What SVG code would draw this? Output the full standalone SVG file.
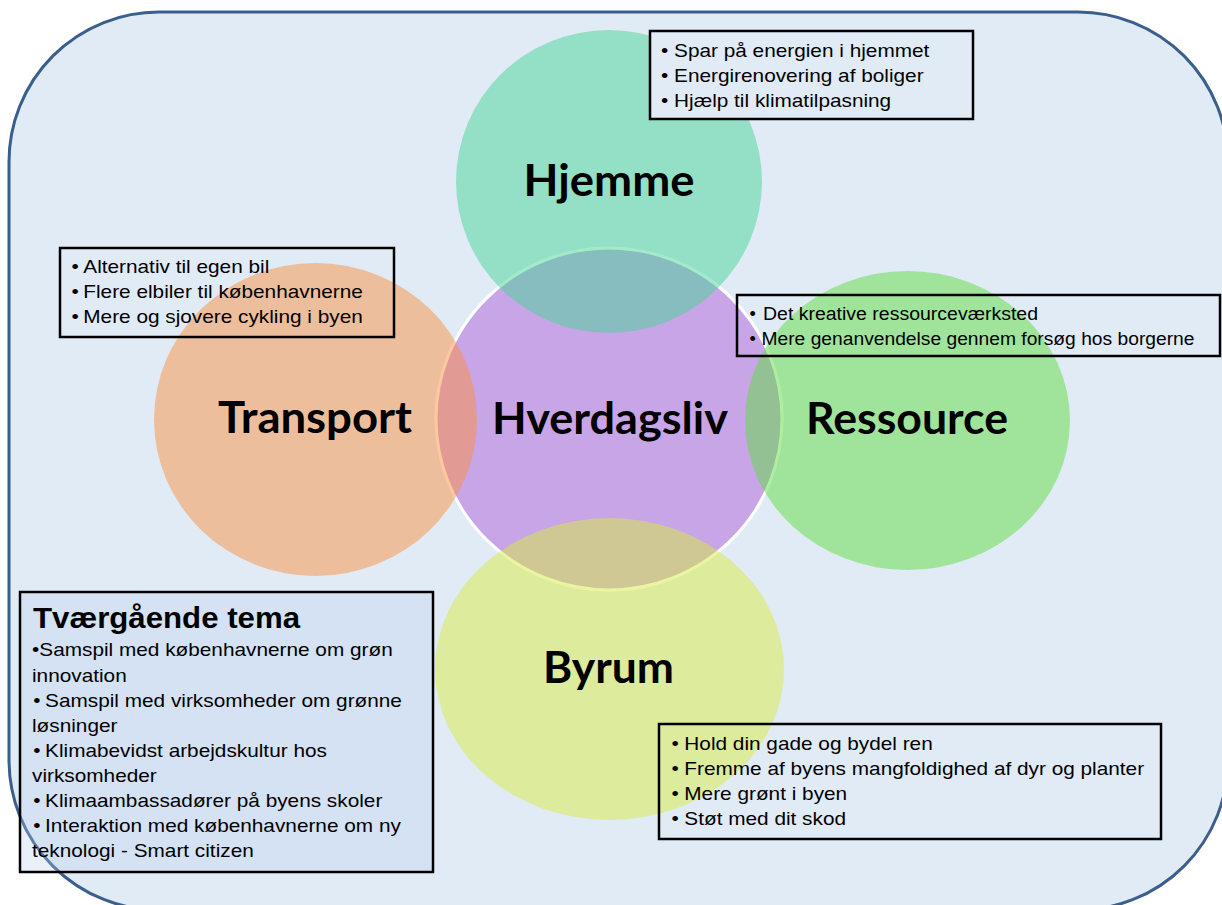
<svg xmlns="http://www.w3.org/2000/svg" width="1222" height="905" viewBox="0 0 1222 905">
<style>
.big{font-family:Lato,"Open Sans","DejaVu Sans",sans-serif;font-weight:bold;font-size:44px;fill:#000;text-anchor:middle}
.t{font-family:"Liberation Sans",Arial,sans-serif;font-size:18px;fill:#000}
.box{fill:none;stroke:#000;stroke-width:2.5}
.title{font-family:"Liberation Sans",Arial,sans-serif;font-size:29px;font-weight:bold;fill:#000}
</style>
<rect width="1222" height="905" fill="#ffffff"/>
<g id="frame">
<rect x="9" y="12" width="1219" height="898" rx="150" ry="150" fill="#E1EBF6" stroke="#3A5F8C" stroke-width="3"/>
</g>
<g id="hverdagsliv">
<ellipse cx="609" cy="419" rx="173" ry="171" fill="#C8A5E6" stroke="#ffffff" stroke-width="3"/>
</g>
<g id="hjemme">
<ellipse cx="609" cy="181.5" rx="153" ry="151.5" fill="#46D696" fill-opacity="0.5"/>
</g>
<g id="transport">
<ellipse cx="315.5" cy="419.5" rx="161.5" ry="156.5" fill="#FA9241" fill-opacity="0.5"/>
</g>
<g id="ressource">
<ellipse cx="907.5" cy="420.5" rx="162.5" ry="149.5" fill="#60DE41" fill-opacity="0.5"/>
</g>
<g id="byrum">
<ellipse cx="609.5" cy="669" rx="174.5" ry="151" fill="#D8EC41" fill-opacity="0.5"/>
</g>
<g id="labels">
<text class="big" x="609" y="196" textLength="171" lengthAdjust="spacingAndGlyphs">Hjemme</text>
<text class="big" x="610" y="434" textLength="236" lengthAdjust="spacingAndGlyphs">Hverdagsliv</text>
<text class="big" x="315" y="433" textLength="194" lengthAdjust="spacingAndGlyphs">Transport</text>
<text class="big" x="907" y="434" textLength="202" lengthAdjust="spacingAndGlyphs">Ressource</text>
<text class="big" x="608.5" y="683" textLength="131" lengthAdjust="spacingAndGlyphs">Byrum</text>
</g>
<g id="box-hjemme">
<rect x="650" y="31" width="323" height="88" fill="#E1EBF6" stroke="#000" stroke-width="2.5"/>
<g transform="matrix(1.155 0 0 1 -102.455 0)">
<text class="t"><tspan x="661" y="57">•</tspan><tspan x="672.3" y="57">Spar på energien i hjemmet</tspan></text>
<text class="t"><tspan x="661" y="82">•</tspan><tspan x="672.3" y="82">Energirenovering af boliger</tspan></text>
<text class="t"><tspan x="661" y="107">•</tspan><tspan x="672.3" y="107">Hjælp til klimatilpasning</tspan></text>
</g>
</g>
<g id="box-transport">
<rect class="box" x="60" y="248" width="334" height="89"/>
<g transform="matrix(1.155 0 0 1 -11.08 0)">
<text class="t"><tspan x="71.5" y="273">•</tspan><tspan x="81.7" y="273">Alternativ til egen bil</tspan></text>
<text class="t"><tspan x="71.5" y="298">•</tspan><tspan x="81.7" y="298">Flere elbiler til københavnerne</tspan></text>
<text class="t"><tspan x="71.5" y="323">•</tspan><tspan x="81.7" y="323">Mere og sjovere cykling i byen</tspan></text>
</g>
</g>
<g id="box-ressource">
<rect class="box" x="737" y="295" width="483" height="61"/>
<text class="t" x="749.5" y="320">•</text>
<text class="t" x="763" y="320" textLength="275" lengthAdjust="spacingAndGlyphs">Det kreative ressourceværksted</text>
<text class="t" x="749.5" y="345">•</text>
<text class="t" x="761.5" y="345" textLength="433" lengthAdjust="spacingAndGlyphs">Mere genanvendelse gennem forsøg hos borgerne</text>
</g>
<g id="box-byrum">
<rect class="box" x="659" y="724" width="502" height="115"/>
<g transform="matrix(1.155 0 0 1 -104.08 0)">
<text class="t"><tspan x="671.5" y="750">•</tspan><tspan x="682.6" y="750">Hold din gade og bydel ren</tspan></text>
<text class="t"><tspan x="671.5" y="775">•</tspan><tspan x="682.6" y="775">Fremme af byens mangfoldighed af dyr og planter</tspan></text>
<text class="t"><tspan x="671.5" y="800">•</tspan><tspan x="682.6" y="800">Mere grønt i byen</tspan></text>
<text class="t"><tspan x="671.5" y="825">•</tspan><tspan x="682.6" y="825">Støt med dit skod</tspan></text>
</g>
</g>
<g id="box-tvaergaaende">
<rect x="20" y="592" width="413" height="280" fill="#B9CEEA" fill-opacity="0.3" stroke="#000" stroke-width="2.5"/>
<text class="title" x="33" y="628" textLength="267" lengthAdjust="spacingAndGlyphs">Tværgående tema</text>
<g transform="matrix(1.155 0 0 1 -4.96 0)">
<text class="t"><tspan x="32" y="656">•Samspil med københavnerne om grøn</tspan></text>
<text class="t"><tspan x="32" y="682">innovation</tspan></text>
<text class="t"><tspan x="33" y="707">•</tspan><tspan x="43.3" y="707">Samspil med virksomheder om grønne</tspan></text>
<text class="t"><tspan x="32" y="732">løsninger</tspan></text>
<text class="t"><tspan x="33" y="757">•</tspan><tspan x="43.3" y="757">Klimabevidst arbejdskultur hos</tspan></text>
<text class="t"><tspan x="32" y="782">virksomheder</tspan></text>
<text class="t"><tspan x="33" y="807">•</tspan><tspan x="43.3" y="807">Klimaambassadører på byens skoler</tspan></text>
<text class="t"><tspan x="33" y="832">•</tspan><tspan x="43.3" y="832">Interaktion med københavnerne om ny</tspan></text>
<text class="t"><tspan x="32" y="857">teknologi - Smart citizen</tspan></text>
</g>
</g>
<g id="connectors"></g>
</svg>
